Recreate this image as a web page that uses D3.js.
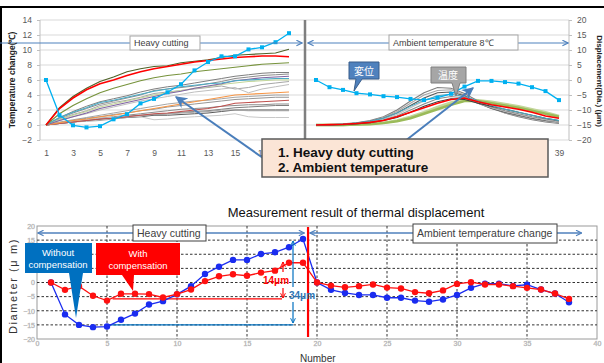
<!DOCTYPE html>
<html><head><meta charset="utf-8">
<script src="https://cdn.jsdelivr.net/npm/d3@7"></script>
<style>body{margin:0;background:#fff}svg{display:block}</style>
</head><body><svg id="c" width="604" height="363"></svg>
<script>
// ---------- DATA (top chart) ----------
// odd category labels; 19..37 are hidden behind the note box in the reference
const topTickLabels = [1,3,5,7,9,11,13,15,17,39];
const tempTicks = [-2,0,2,4,6,8,10,12,14];
const dispTicks = [-20,-15,-10,-5,0,5,10,15,20];
// heavy cutting part, x = 1..19 (temperature change, left axis)
const heavyOlive  = [0,2.3,3.8,4.9,5.8,6.4,7.1,7.5,7.8,7.9,8.3,8.5,8.7,9.0,9.3,9.4,9.5,9.6,10.1];
const heavyRed    = [0,2.2,3.6,4.7,5.5,6.0,6.6,7.1,7.5,7.8,8.1,8.4,8.6,8.8,9.0,9.1,9.2,9.2,9.1];
const heavyGreen  = [0,1.5,2.6,3.5,4.3,4.9,5.4,5.9,6.3,6.6,6.8,7.1,7.3,7.5,7.7,7.9,8.1,8.2,8.3];
const heavyTeal   = [0,1.0,1.7,2.3,3.0,3.3,3.7,4.1,4.5,4.8,5.1,5.3,5.5,5.6,5.9,6.0,6.1,6.2,6.2];
const heavyPurple = [0,0.6,1.1,1.6,2.2,2.6,3.0,3.4,3.8,4.2,4.5,4.9,5.2,5.5,5.9,6.1,6.3,6.4,6.5];
const heavyOrange = [0,0.3,0.6,0.8,1.1,1.3,1.6,1.9,2.2,2.5,2.8,3.1,3.4,3.7,4.0,4.1,4.2,4.3,4.4];
const heavyDarkRed= [0,0.2,0.4,0.6,0.8,0.9,1.1,1.3,1.5,1.6,1.8,2.0,2.2,2.5,2.9,3.0,3.1,3.2,3.3];
const heavyGrays = [
  [0,1.0,1.8,2.5,3.1,3.5,3.9,4.4,4.8,5.1,5.3,5.6,5.9,6.2,6.5,6.7,6.9,7.0,7.0],
  [0,0.9,1.6,2.2,2.8,3.2,3.6,4.0,4.6,4.8,5.0,5.2,5.5,5.8,6.2,6.4,6.6,6.7,6.8],
  [0,0.8,1.4,1.9,2.6,3.0,3.3,3.7,4.2,4.4,4.6,4.8,5.0,5.2,4.8,5.0,5.4,5.6,5.8],
  [0,0.6,1.1,1.5,2.0,2.4,2.8,3.2,3.5,3.8,4.1,4.4,4.6,4.8,5.0,4.3,4.8,5.1,5.4],
  [0,0.4,0.7,1.0,1.3,1.6,1.9,2.2,2.5,2.8,3.0,3.2,3.3,3.5,3.7,3.8,3.9,4.0,4.0],
  [0,0.3,0.6,0.9,1.1,1.4,1.6,1.9,2.1,2.4,2.6,2.8,3.0,3.2,3.4,3.5,3.6,3.7,3.7],
  [0,0.3,0.5,0.7,0.9,1.1,1.3,1.5,1.7,1.9,2.1,2.2,2.3,2.5,2.6,2.7,2.7,2.8,2.8],
  [0,0.2,0.4,0.6,0.8,1.0,1.2,1.3,1.4,1.5,1.7,1.8,1.9,2.1,2.3,2.4,2.5,2.6,2.6],
  [0,0.2,0.4,0.6,0.8,0.9,1.0,1.1,1.3,1.3,1.4,1.5,1.6,1.8,2.0,2.0,2.0,2.0,2.0],
  [0,0.2,0.4,0.5,0.6,0.8,1.0,1.2,1.4,1.5,1.6,1.7,1.8,2.0,2.0,1.9,1.9,1.9,1.9],
  [0,0.3,0.5,0.7,0.9,1.0,1.2,1.1,0.7,0.8,1.0,1.1,1.2,1.3,1.5,1.1,1.0,1.0,1.0]
];
const heavyLightGreen = [0,0.7,1.3,1.8,2.4,2.8,3.2,3.6,4.0,4.3,4.6,4.9,5.1,5.4,5.6,5.8,5.9,6.0,6.0];
// ambient part, x = 21..39
const ambRed   = [0,0.05,0.1,0.2,0.35,0.6,1.1,1.7,2.3,2.9,3.4,3.6,3.1,2.7,2.4,2.1,1.7,1.2,0.9];
const ambTeal  = [0,0.05,0.1,0.25,0.5,0.9,1.6,2.5,3.3,3.9,4.1,3.8,3.2,2.6,2.1,1.7,1.3,0.9,0.6];
const ambGreens = [
  [0,0,0,0.05,0.15,0.3,0.6,1.1,1.7,2.4,3.0,3.4,3.3,3.1,2.8,2.5,2.1,1.7,1.2],
  [0,0,0,0.05,0.1,0.25,0.5,0.9,1.5,2.1,2.7,3.2,3.2,2.9,2.6,2.3,1.9,1.5,1.1]
];
const ambGrays = [
  [0,0.05,0.15,0.3,0.6,1.1,2.0,3.2,4.3,5.0,4.9,4.2,3.2,2.3,1.6,1.1,0.7,0.4,0.2],
  [0,0.05,0.1,0.3,0.5,1.0,1.8,2.9,4.0,4.6,4.7,4.0,3.0,2.2,1.6,1.2,0.8,0.5,0.3],
  [0,0.05,0.1,0.25,0.5,0.9,1.6,2.6,3.6,4.3,4.4,3.9,2.9,2.2,1.7,1.3,0.9,0.6,0.4],
  [0,0,0.1,0.2,0.4,0.8,1.4,2.3,3.2,3.9,4.1,3.7,2.9,2.3,1.8,1.4,1.0,0.7,0.4],
  [0,0,0.1,0.2,0.4,0.7,1.2,2.0,2.8,3.5,3.8,3.6,2.9,2.4,1.9,1.5,1.1,0.8,0.5],
  [0,0,0.05,0.15,0.3,0.6,1.0,1.7,2.5,3.1,3.5,3.4,2.9,2.5,2.1,1.7,1.3,0.9,0.6]
];
// displacement (right axis)
const dispHeavy = [0,-11.7,-15.1,-15.8,-15.4,-13.1,-11.4,-7.8,-6.3,-4.1,-1.4,3.2,6.0,7.9,7.9,10.2,10.9,12.6,15.6];
const dispAmb   = [0,-2.4,-3.3,-4.4,-4.8,-5.4,-5.7,-6.3,-6.7,-5.9,-4.6,-2.2,-0.3,-0.3,-0.7,-1.2,-2.4,-3.7,-6.7];

// ---------- DATA (bottom chart) ----------
const numbers = [1,2,3,4,5,6,7,8,9,10,11,12,13,14,15,16,17,18,19,20,21,22,23,24,25,26,27,28,29,30,31,32,33,34,35,36,37,38];
const withoutComp = [0,-11.3,-15,-15.8,-15.6,-13.2,-11,-7.8,-6.6,-4.2,-1.3,3,5.6,8,8,10.1,10.7,12.5,15.4,0,-2.6,-3.7,-4.4,-4.4,-5.4,-5.4,-6.4,-6.8,-6,-4.4,-1.9,-0.4,-0.4,-1.2,-0.8,-2.5,-3.9,-7];
const withComp = [0,-2.6,-1.3,-4.7,-6.4,-4,-4,-4.1,-5.3,-4.1,-2.5,0.5,2.2,2.9,2.4,3.5,4.2,7,7,0,-1.1,-1.7,-1.3,-0.7,-1.8,-2.1,-3.4,-3.8,-2.8,-0.5,0.1,-0.7,-0.7,-1.3,-1.9,-2.5,-3.9,-5.8];
const bottomXTicks = [0,5,10,15,20,25,30,35,40];
const bottomYTicks = [-20,-15,-10,-5,0,5,10,15,20];
// labels 5 and 10 are hidden behind the blue callout in the reference
const bottomYLabels = [-20,-15,-10,-5,0,15,20];

// ---------- DRAW ----------
const svg = d3.select('#c');
const FONT = 'Liberation Sans, Arial, sans-serif';
svg.append('rect').attr('width',604).attr('height',363).attr('fill','#fff');
const defs = svg.append('defs');
function mk(id, color, size){
  defs.append('marker').attr('id',id).attr('viewBox','0 0 10 10').attr('refX',9).attr('refY',5)
    .attr('markerWidth',size).attr('markerHeight',size).attr('markerUnits','userSpaceOnUse')
    .attr('orient','auto-start-reverse')
    .append('path').attr('d','M1,1 L9,5 L1,9').attr('fill','none').attr('stroke',color).attr('stroke-width',1.6);
}
mk('ahB','#4f81bd',7); mk('ahR','#ff0000',6); mk('ahD','#0070c0',6);
defs.append('marker').attr('id','ahF').attr('viewBox','0 0 10 10').attr('refX',9).attr('refY',5)
  .attr('markerWidth',12).attr('markerHeight',12).attr('markerUnits','userSpaceOnUse').attr('orient','auto')
  .append('path').attr('d','M0,0 L10,5 L0,10 L3,5 Z').attr('fill','#4a7ebb');

// frame
svg.append('line').attr('x1',0).attr('x2',604).attr('y1',7).attr('y2',7).attr('stroke','#000').attr('stroke-width',2);
svg.append('line').attr('x1',1).attr('x2',1).attr('y1',7).attr('y2',363).attr('stroke','#000').attr('stroke-width',2);

// top scales
const xT = d3.scaleLinear().domain([1,39]).range([46,559]);
const yL = d3.scaleLinear().domain([-2,14]).range([140,20]);
const yR = d3.scaleLinear().domain([-20,20]).range([140,20]);
const topG = svg.append('g');
topG.append('g').selectAll('line').data(tempTicks).join('line')
  .attr('x1',40).attr('x2',569).attr('y1',d=>yL(d)).attr('y2',d=>yL(d)).attr('stroke','#d9d9d9');
topG.append('line').attr('x1',40).attr('x2',40).attr('y1',yL(14)).attr('y2',yL(-2)).attr('stroke','#bfbfbf');
topG.append('line').attr('x1',569).attr('x2',569).attr('y1',yL(14)).attr('y2',yL(-2)).attr('stroke','#bfbfbf');

const la = topG.append('g').attr('transform','translate(40,0)')
  .call(d3.axisLeft(yL).tickValues(tempTicks).tickSize(3).tickPadding(5));
const ra = topG.append('g').attr('transform','translate(569,0)')
  .call(d3.axisRight(yR).tickValues(dispTicks).tickSize(3).tickPadding(5));
const xa = topG.append('g').attr('transform','translate(0,150)')
  .call(d3.axisBottom(xT).tickValues(topTickLabels).tickSize(0).tickPadding(0));
[la,ra,xa].forEach(a=>{a.select('.domain').remove();
  a.selectAll('line').attr('stroke','#bfbfbf');
  a.selectAll('text').attr('font-family',FONT).attr('font-size',8.5).attr('fill','#595959');});

const lineH = d3.line().x((d,i)=>xT(i+1)).y(d=>yL(d));
const lineA = d3.line().x((d,i)=>xT(i+21)).y(d=>yL(d));
const grayCols = ['#7f7f7f','#8c8c8c','#a6a6a6','#bfbfbf','#a6a6a6','#969696','#8c8c8c','#7f7f7f','#595959','#a6a6a6','#c8c8c8'];
heavyGrays.forEach((s,i)=>topG.append('path').attr('d',lineH(s)).attr('fill','none').attr('stroke',grayCols[i]).attr('stroke-width',1));
[[heavyLightGreen,'#c3d69b'],[heavyDarkRed,'#c0504d'],[heavyOrange,'#f79646'],[heavyPurple,'#8064a2'],[heavyTeal,'#4bacc6'],[heavyGreen,'#77933c'],[heavyOlive,'#4f6228'],[heavyRed,'#ff0000']]
  .forEach(([s,c])=>topG.append('path').attr('d',lineH(s)).attr('fill','none').attr('stroke',c).attr('stroke-width',c=='#ff0000'?1.6:1.2));
ambGreens.forEach((s,i)=>topG.append('path').attr('d',lineA(s)).attr('fill','none').attr('stroke',i?'#9bbb59':'#c3d69b').attr('stroke-width',2.5));
ambGrays.forEach((s,i)=>topG.append('path').attr('d',lineA(s)).attr('fill','none').attr('stroke',['#7f7f7f','#a6a6a6','#595959','#bfbfbf','#8c8c8c','#404040'][i]).attr('stroke-width',1.2));
topG.append('path').attr('d',lineA(ambTeal)).attr('fill','none').attr('stroke','#4bacc6').attr('stroke-width',1);
topG.append('path').attr('d',lineA(ambRed)).attr('fill','none').attr('stroke','#ff0000').attr('stroke-width',1.6);

// displacement series
[[dispHeavy,1],[dispAmb,21]].forEach(([s,o])=>{
  const ln = d3.line().x((d,i)=>xT(i+o)).y(d=>yR(d));
  topG.append('path').attr('d',ln(s)).attr('fill','none').attr('stroke','#00b0f0').attr('stroke-width',1.3);
  topG.append('g').selectAll('rect').data(s).join('rect')
    .attr('x',(d,i)=>xT(i+o)-2).attr('y',d=>yR(d)-2).attr('width',4).attr('height',4).attr('fill','#00b0f0');
});

// divider
topG.append('line').attr('x1',305).attr('x2',305).attr('y1',20).attr('y2',140).attr('stroke','#7f7f7f').attr('stroke-width',2.5);
// phase arrows
topG.append('line').attr('x1',0).attr('x2',302).attr('y1',43).attr('y2',43).attr('stroke','#4f81bd').attr('stroke-width',1.2).attr('marker-end','url(#ahB)');
topG.append('line').attr('x1',308).attr('x2',568).attr('y1',43).attr('y2',43).attr('stroke','#4f81bd').attr('stroke-width',1.2).attr('marker-start','url(#ahB)').attr('marker-end','url(#ahB)');
function box(g,x,y,w,h,txt,fs,stroke){
  g.append('rect').attr('x',x).attr('y',y).attr('width',w).attr('height',h).attr('fill','#fff').attr('stroke',stroke||'#a6a6a6');
  g.append('text').attr('x',x+4).attr('y',y+h/2+fs*0.36).attr('font-family',FONT).attr('font-size',fs).attr('fill','#404040').text(txt);
}
box(topG,130,36,70,14,'Heavy cutting',9);
box(topG,389,35,129,15,'Ambient temperature  8\u2103',9);

// callouts 変位 / 温度
topG.append('path').attr('d','M349,62 H379 V79 H362 L354,91 L356,79 H349 Z').attr('fill','#4f81bd').attr('stroke','#385d8a');
topG.append('text').attr('x',364).attr('y',75).attr('text-anchor','middle').attr('font-family','Noto Sans CJK JP').attr('font-size',10).attr('fill','#fff').text('変位');
topG.append('path').attr('d','M431,67 H466 V83 H460 L456,96 L452,83 H431 Z').attr('fill','#a6a6a6').attr('stroke','#7f7f7f');
topG.append('text').attr('x',448).attr('y',79).attr('text-anchor','middle').attr('font-family','Noto Sans CJK JP').attr('font-size',10).attr('fill','#fff').text('温度');

// arrows from note box
topG.append('line').attr('x1',263).attr('x2',176).attr('y1',158).attr('y2',97).attr('stroke','#4a7ebb').attr('stroke-width',2).attr('marker-end','url(#ahF)');
topG.append('line').attr('x1',400).attr('x2',473).attr('y1',145).attr('y2',88).attr('stroke','#4a7ebb').attr('stroke-width',2).attr('marker-end','url(#ahF)');
// note box
topG.append('rect').attr('x',262).attr('y',139).attr('width',286).attr('height',38).attr('fill','#fbe5d6').attr('stroke','#595959').attr('stroke-width',1.5);
topG.append('text').attr('x',278).attr('y',156.5).attr('font-family',FONT).attr('font-weight','bold').attr('font-size',13.5).attr('fill','#111').text('1. Heavy duty cutting');
topG.append('text').attr('x',278).attr('y',171.5).attr('font-family',FONT).attr('font-weight','bold').attr('font-size',13.5).attr('fill','#111').text('2. Ambient temperature');

// axis titles
topG.append('text').attr('transform','translate(15,80) rotate(-90)').attr('text-anchor','middle')
  .attr('font-family',FONT).attr('font-weight','bold').attr('font-size',8.5).attr('fill','#222').text('Temperature change(\u2103)');
topG.append('text').attr('transform','translate(597,81) rotate(90)').attr('text-anchor','middle')
  .attr('font-family',FONT).attr('font-weight','bold').attr('font-size',8).attr('fill','#222').text('Displacement(Dia.)  (\u03bcm)');

// ---------- bottom chart ----------
const xB = d3.scaleLinear().domain([0,40]).range([37,597]);
const yB = d3.scaleLinear().domain([-20,20]).range([339,226]);
const bot = svg.append('g');
bot.append('text').attr('x',356).attr('y',217).attr('text-anchor','middle').attr('font-family',FONT).attr('font-size',13).attr('fill','#111')
  .text('Measurement result of thermal displacement');
bot.append('rect').attr('x',xB(0)).attr('y',yB(20)).attr('width',xB(40)-xB(0)).attr('height',yB(-20)-yB(20)).attr('fill','#fff').attr('stroke','#9a9a9a');
bot.append('g').selectAll('line').data(bottomYTicks.slice(1,-1)).join('line')
  .attr('x1',xB(0)).attr('x2',xB(40)).attr('y1',d=>yB(d)).attr('y2',d=>yB(d)).attr('stroke','#333').attr('stroke-dasharray','2.5,2');
bot.append('g').selectAll('line').data(bottomXTicks.slice(1,-1)).join('line')
  .attr('y1',yB(20)).attr('y2',yB(-20)).attr('x1',d=>xB(d)).attr('x2',d=>xB(d)).attr('stroke','#333').attr('stroke-dasharray','2.5,2');
const bx = bot.append('g').attr('transform','translate(0,341)').call(d3.axisBottom(xB).tickValues(bottomXTicks).tickSize(0).tickPadding(0));
const by = bot.append('g').attr('transform','translate(35,0)').call(d3.axisLeft(yB).tickValues(bottomYLabels).tickSize(0).tickPadding(0));
[bx,by].forEach(a=>{a.select('.domain').remove();
  a.selectAll('text').attr('font-family',FONT).attr('font-size',7).attr('fill','#888').attr('stroke','#ccc').attr('stroke-width',0.3);});
bot.append('text').attr('transform','translate(17,286) rotate(-90)').attr('text-anchor','middle')
  .attr('font-family',FONT).attr('font-size',11).attr('letter-spacing',1.6).attr('fill','#333').text('Diameter (\u03bc m)');
bot.append('text').attr('x',300).attr('y',362).attr('font-family',FONT).attr('font-size',10).attr('fill','#333').text('Number');

// annotation lines
bot.append('line').attr('x1',xB(5.4)).attr('x2',xB(17.5)).attr('y1',yB(-5.8)).attr('y2',yB(-5.8)).attr('stroke','#ff0000').attr('stroke-width',1.3);
bot.append('line').attr('x1',xB(5)).attr('x2',xB(18.3)).attr('y1',yB(-15)).attr('y2',yB(-15)).attr('stroke','#0070c0').attr('stroke-width',1.3);

// series
[[withoutComp,'#1a2cf0'],[withComp,'#ff1010']].forEach(([s,c])=>{
  const ln = d3.line().x((d,i)=>xB(numbers[i])).y(d=>yB(d));
  bot.append('path').attr('d',ln(s)).attr('fill','none').attr('stroke',c).attr('stroke-width',1.3);
  bot.append('g').selectAll('circle').data(s).join('circle')
    .attr('cx',(d,i)=>xB(numbers[i])).attr('cy',d=>yB(d)).attr('r',3.2).attr('fill',c);
});

// phase arrows
bot.append('line').attr('x1',xB(0)+1).attr('x2',xB(19.1)).attr('y1',233).attr('y2',233).attr('stroke','#4f81bd').attr('stroke-width',1.5).attr('marker-start','url(#ahB)').attr('marker-end','url(#ahB)');
bot.append('line').attr('x1',xB(19.5)).attr('x2',xB(38.9)).attr('y1',233).attr('y2',233).attr('stroke','#4f81bd').attr('stroke-width',1.5).attr('marker-start','url(#ahB)').attr('marker-end','url(#ahB)');
box(bot,133,225,73,16,'Heavy cutting',10.5,'#404040');
box(bot,413,224,144,19,'Ambient temperature change',10.5,'#404040');
// red divider
bot.append('line').attr('x1',xB(19.36)).attr('x2',xB(19.36)).attr('y1',227).attr('y2',337).attr('stroke','#ff0000').attr('stroke-width',2.2);

// callouts
bot.append('path').attr('d','M25,243 H92 V273 H83 L76,318 L69,273 H25 Z').attr('fill','#0070c0');
bot.append('text').attr('x',58).attr('y',256).attr('text-anchor','middle').attr('font-family',FONT).attr('font-size',9.5).attr('fill','#fff').text('Without');
bot.append('text').attr('x',58).attr('y',268).attr('text-anchor','middle').attr('font-family',FONT).attr('font-size',9.5).attr('fill','#fff').text('compensation');
bot.append('path').attr('d','M96,243 H180 V275 H134 L133,291 L122,275 H96 Z').attr('fill','#ff0000');
bot.append('text').attr('x',138).attr('y',257).attr('text-anchor','middle').attr('font-family',FONT).attr('font-size',9.5).attr('fill','#fff').text('With');
bot.append('text').attr('x',138).attr('y',269).attr('text-anchor','middle').attr('font-family',FONT).attr('font-size',9.5).attr('fill','#fff').text('compensation');

// 14μm / 34μm
bot.append('line').attr('x1',283).attr('x2',283).attr('y1',272).attr('y2',262).attr('stroke','#ff0000').attr('stroke-width',1.2).attr('marker-end','url(#ahR)');
bot.append('line').attr('x1',283).attr('x2',283).attr('y1',288).attr('y2',298).attr('stroke','#ff0000').attr('stroke-width',1.2).attr('marker-end','url(#ahR)');
bot.append('text').attr('x',263).attr('y',284).attr('font-family',FONT).attr('font-weight','bold').attr('font-size',10).attr('fill','#ff0000').text('14\u03bcm');
bot.append('line').attr('x1',293).attr('x2',293).attr('y1',287).attr('y2',241).attr('stroke','#0070c0').attr('stroke-width',1.2).attr('marker-end','url(#ahD)');
bot.append('line').attr('x1',293).attr('x2',293).attr('y1',302).attr('y2',323).attr('stroke','#0070c0').attr('stroke-width',1.2).attr('marker-end','url(#ahD)');
bot.append('text').attr('x',289).attr('y',299).attr('font-family',FONT).attr('font-weight','bold').attr('font-size',10).attr('fill','#2e75b6').text('34\u03bcm');
</script></body></html>
